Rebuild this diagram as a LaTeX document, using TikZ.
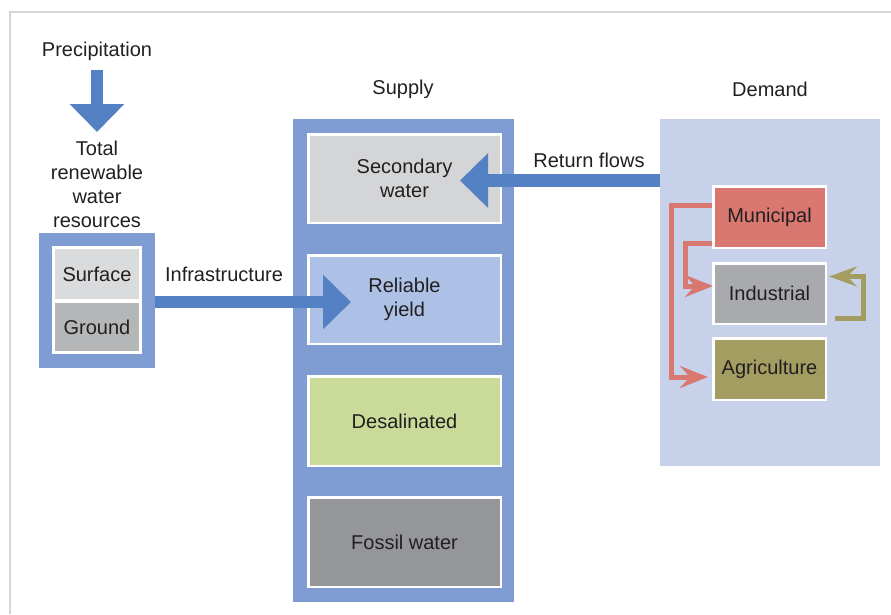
\documentclass[tikz,border=0pt]{standalone}
\usepackage{fontspec}
\setmainfont{Liberation Sans}
\usetikzlibrary{arrows.meta}
\definecolor{txt}{HTML}{231F20}
\definecolor{framegray}{HTML}{D5D5D5}
\definecolor{supplyblue}{HTML}{7F9DD2}
\definecolor{arrowblue}{HTML}{5481C4}
\definecolor{demandbg}{HTML}{C7D2EA}
\definecolor{secfill}{HTML}{D4D5D7}
\definecolor{relfill}{HTML}{ADC0E5}
\definecolor{desfill}{HTML}{C9DA99}
\definecolor{fosfill}{HTML}{959699}
\definecolor{surffill}{HTML}{DADBDD}
\definecolor{grndfill}{HTML}{B5B6B8}
\definecolor{munfill}{HTML}{D97870}
\definecolor{indfill}{HTML}{A9AAAD}
\definecolor{agrfill}{HTML}{A39D62}
\begin{document}
\begin{tikzpicture}[x=1pt,y=-1pt,
  font=\fontsize{20}{24}\selectfont, text=txt,
  box/.style={draw=white, line width=2.5pt, inner sep=0pt, align=center},
  lbl/.style={inner sep=0pt, align=center},
  blockarrow/.style={draw=arrowblue, line width=12.5pt, -{Triangle[length=28pt 0 0,width=53pt 0 0]}},
  redarrow/.style={draw=munfill, line width=5pt, line join=miter, -{Stealth[length=28pt 0 0,width=22pt 0 0,inset=10pt 0]}},
  olivearrow/.style={draw=agrfill, line width=5pt, line join=miter, -{Stealth[length=28pt 0 0,width=20pt 0 0,inset=10pt 0]}}]
\useasboundingbox (0,0) rectangle (891,614);
% frame
\draw[framegray, line width=2pt] (10,614) -- (10,12) -- (891,12);
% backgrounds
\node[fill=supplyblue, inner sep=0pt, minimum width=221pt, minimum height=483pt] (supply) at (403.5,360.5) {};
\node[fill=demandbg, inner sep=0pt, minimum width=220pt, minimum height=347pt] (demand) at (770,292.5) {};
\node[fill=supplyblue, inner sep=0pt, minimum width=116pt, minimum height=135pt] (lbox) at (97,300.5) {};
% left boxes
\node[box, fill=surffill, minimum width=87pt, minimum height=53pt] (surf) at (97,274) {Surface};
\node[box, fill=grndfill, minimum width=87pt, minimum height=51pt] (grnd) at (97,327) {Ground};
% supply boxes
\node[box, fill=secfill, minimum width=192.5pt, minimum height=88.5pt] (sec) at (404.5,178.5) {Secondary\\water};
\node[box, fill=relfill, minimum width=192.5pt, minimum height=88.5pt] (rel) at (404.5,299.5) {Reliable\\yield};
\node[box, fill=desfill, minimum width=192.5pt, minimum height=89.5pt] (des) at (404.5,421) {Desalinated};
\node[box, fill=fosfill, minimum width=192.5pt, minimum height=89.5pt] (fos) at (404.5,542) {Fossil water};
% demand boxes
\node[box, fill=munfill, minimum width=112.5pt, minimum height=61.5pt] (mun) at (769.5,217) {Municipal};
\node[box, fill=indfill, minimum width=112.5pt, minimum height=60.5pt] (ind) at (769.5,293.5) {Industrial};
\node[box, fill=agrfill, minimum width=112.5pt, minimum height=61.5pt] (agr) at (769.5,369) {Agriculture};
% labels
\node[lbl] (prec) at (97,51) {Precipitation};
\node[lbl] (total) at (97,184) {Total\\renewable\\water\\resources};
\node[lbl] (supplylbl) at (403,89) {Supply};
\node[lbl] (demandlbl) at (770,89) {Demand};
\node[lbl] (infra) at (224,274) {Infrastructure};
\node[lbl] (ret) at (589,160) {Return flows};
% block arrows
\coordinate (ptop) at (97,70);
\coordinate (ptip) at (97,132);
\draw[blockarrow] (ptop) -- (ptip);
\draw[blockarrow] ([yshift=-1.5pt]lbox.east) -- ([xshift=44pt,yshift=-2.5pt]rel.west);
\coordinate (retstart) at (660,180.5);
\draw[blockarrow] (retstart) -- ([xshift=-42pt,yshift=-2pt]sec.east);
% red arrows
\draw[redarrow] ([yshift=11.5pt]mun.west) -- ++(-41,0) |- ([xshift=-4pt,yshift=-8pt]agr.west);
\draw[redarrow] ([yshift=-26.5pt]mun.west) -- ++(-27,0) |- ([xshift=1pt,yshift=7.5pt]ind.west);
% olive arrow
\draw[olivearrow] ([xshift=8pt,yshift=-24.5pt]ind.east) -- ++(28,0) |- ([xshift=2pt,yshift=17pt]ind.east);
\end{tikzpicture}
\end{document}
